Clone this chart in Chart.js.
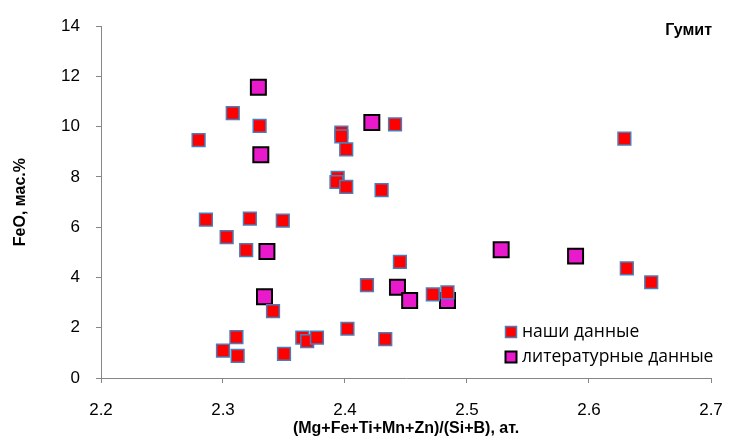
<!DOCTYPE html>
<html>
<head>
<meta charset="utf-8">
<script src="https://cdn.jsdelivr.net/npm/chart.js@4/dist/chart.umd.min.js"></script>
<style>
  html, body { margin: 0; padding: 0; background: #fff; }
  #wrap { position: relative; width: 752px; height: 445px; }
</style>
</head>
<body>
<div id="wrap"><canvas id="humite" width="752" height="445"></canvas></div>
<script>
// наши данные
const ourX = [2.280, 2.308, 2.330, 2.397, 2.397, 2.401, 2.394, 2.393, 2.401, 2.430, 2.441,
              2.286, 2.322, 2.349, 2.303, 2.319,
              2.341, 2.311, 2.300, 2.312, 2.350, 2.365, 2.369, 2.377,
              2.445, 2.418, 2.472, 2.484, 2.402, 2.433,
              2.631, 2.651, 2.629];
const ourY = [9.47, 10.54, 10.03, 9.77, 9.62, 9.10, 7.96, 7.80, 7.61, 7.48, 10.09,
              6.30, 6.34, 6.26, 5.61, 5.09,
              2.66, 1.63, 1.09, 0.88, 0.96, 1.61, 1.47, 1.61,
              4.62, 3.70, 3.33, 3.41, 1.96, 1.55,
              4.36, 3.81, 9.53];
// литературные данные
const litX = [2.329, 2.331, 2.422, 2.336, 2.334, 2.443, 2.453, 2.484, 2.528, 2.589];
const litY = [11.57, 8.88, 10.17, 5.03, 3.23, 3.61, 3.08, 3.08, 5.10, 4.85];

const xTicks = [2.2, 2.3, 2.4, 2.5, 2.6, 2.7];
const yTicks = [0, 2, 4, 6, 8, 10, 12, 14];
const seriesNames = ['наши данные', 'литературные данные'];

const axisColor = '#868686';
const tickFont = { family: "'Liberation Sans Narrow', 'Liberation Sans', Arial", size: 17 };
const boldFont = { family: "'Liberation Sans', Arial", size: 16, weight: 'bold' };

const pts = (xs, ys) => xs.map((x, i) => ({ x: x, y: ys[i] }));

const overlay = {
  id: 'overlay',
  afterDraw(chart) {
    const ctx = chart.ctx;
    ctx.save();
    ctx.font = "bold 16px 'Liberation Sans', Arial";
    ctx.fillStyle = '#000';
    ctx.textAlign = 'right';
    ctx.textBaseline = 'middle';
    ctx.fillText('Гумит', 712, 31);

    // legend
    const rows = [332, 357];
    ctx.font = "17.5px 'Open Sans', 'Liberation Sans', Arial";
    ctx.textAlign = 'left';
    chart.data.datasets.forEach((ds, i) => {
      const cy = rows[i];
      ctx.fillStyle = ds.backgroundColor;
      ctx.strokeStyle = ds.borderColor;
      ctx.lineWidth = ds.borderWidth;
      ctx.fillRect(505.5, cy - 5.5, 11, 11);
      ctx.strokeRect(505.5, cy - 5.5, 11, 11);
      ctx.fillStyle = '#000';
      ctx.fillText(ds.label, 522, cy);
    });
    ctx.restore();
  }
};

new Chart(document.getElementById('humite'), {
  type: 'scatter',
  data: {
    datasets: [{
      label: seriesNames[0],
      data: pts(ourX, ourY),
      pointStyle: 'rect',
      pointRadius: 9,
      pointHoverRadius: 9,
      backgroundColor: '#FF0000',
      borderColor: '#4A7EBB',
      borderWidth: 1.5
    }, {
      label: seriesNames[1],
      data: pts(litX, litY),
      pointStyle: 'rect',
      pointRadius: 10.6,
      pointHoverRadius: 10.6,
      backgroundColor: '#E81ACB',
      borderColor: '#000000',
      borderWidth: 2
    }]
  },
  options: {
    responsive: false,
    animation: false,
    layout: { padding: { left: 0, right: 41, top: 24, bottom: 0 } },
    plugins: { legend: { display: false }, tooltip: { enabled: false } },
    scales: {
      x: {
        type: 'linear',
        min: 2.2, max: 2.7,
        afterBuildTicks: s => { s.ticks = xTicks.map(v => ({ value: v })); },
        afterFit: s => { s.height = 67; },
        ticks: { color: '#000', font: tickFont, padding: 17, callback: v => v.toFixed(1), maxRotation: 0 },
        grid: { drawOnChartArea: false, drawTicks: true, tickLength: 5, color: axisColor },
        border: { display: true, color: axisColor, width: 1 },
        title: { display: true, text: '(Mg+Fe+Ti+Mn+Zn)/(Si+B), ат.', color: '#000', font: boldFont, padding: { top: 0, bottom: 7 } }
      },
      y: {
        type: 'linear',
        min: 0, max: 14,
        afterBuildTicks: s => { s.ticks = yTicks.map(v => ({ value: v })); },
        afterFit: s => { s.width = 101; },
        ticks: { color: '#000', font: tickFont, padding: 16 },
        grid: { drawOnChartArea: false, drawTicks: true, tickLength: 5, color: axisColor },
        border: { display: true, color: axisColor, width: 1 },
        title: { display: true, text: 'FeO, мас.%', color: '#000', font: boldFont, padding: { top: 11, bottom: 0 } }
      }
    }
  },
  plugins: [overlay]
});
</script>
</body>
</html>
